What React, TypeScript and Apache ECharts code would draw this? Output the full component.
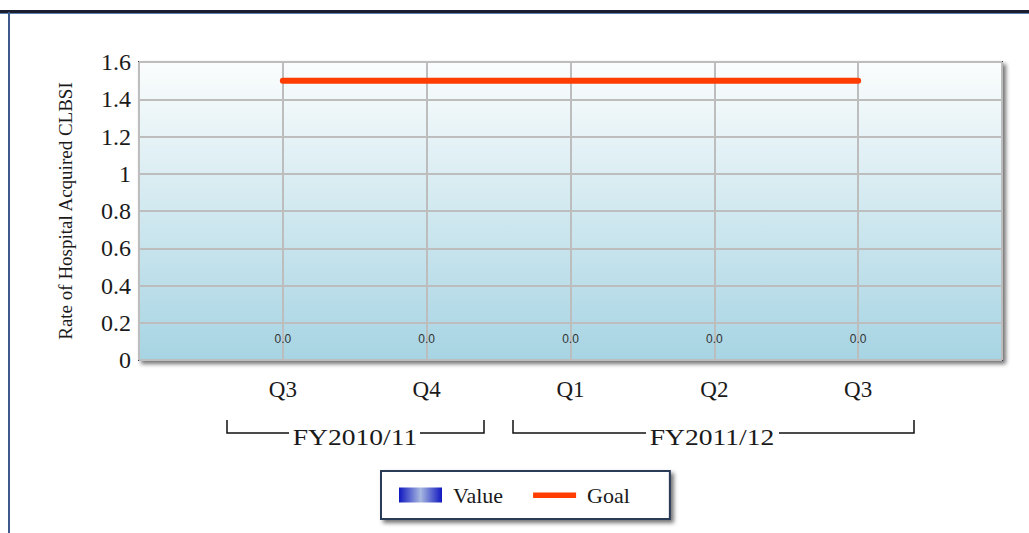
import React, { useEffect, useRef } from "react";
import * as echarts from "echarts";

const quarters = ["Q3", "Q4", "Q1", "Q2", "Q3"];
const valueData = [0, 0, 0, 0, 0];
const goalData = [1.5, 1.5, 1.5, 1.5, 1.5];
const fiscalYears = ["FY2010/11", "FY2011/12"];
const yTicks = { min: 0, max: 1.6, interval: 0.2 };

const SERIF = "'Liberation Serif', 'Times New Roman', serif";
const LINE_ICON = "path://M0,0h0.01v0.01h-0.01z M0,5h43v5.5h-43z M42.99,14.99h0.01v0.01h-0.01z";

export default function App() {
  const ref = useRef<HTMLDivElement>(null);
  useEffect(() => {
    if (!ref.current) return;
    const chart = echarts.init(ref.current, undefined, { renderer: "svg" });
    const option: any = {
      animation: false,
      backgroundColor: "#ffffff",
      grid: {
        left: 139,
        top: 62,
        width: 863,
        height: 298,
        show: true,
        borderColor: "#2a3a58",
        borderWidth: 2,
        backgroundColor: new echarts.graphic.LinearGradient(0, 0, 0, 1, [
          { offset: 0, color: "#fbfdfd" },
          { offset: 1, color: "#a7d4e3" },
        ]),
        shadowColor: "rgba(0,0,0,0.55)",
        shadowBlur: 4,
        shadowOffsetX: 3,
        shadowOffsetY: 3,
      },
      xAxis: {
        type: "value",
        min: -1,
        max: 5,
        interval: 1,
        axisLine: { show: false },
        axisTick: { show: false },
        splitLine: { show: true, lineStyle: { color: "#bdbdbd", width: 2 } },
        axisLabel: {
          margin: 18,
          fontFamily: SERIF,
          fontSize: 23,
          color: "#1a1a1a",
          formatter: (v: number) => (v >= 0 && v < quarters.length ? quarters[v] : ""),
        },
      },
      yAxis: {
        type: "value",
        min: yTicks.min,
        max: yTicks.max,
        interval: yTicks.interval,
        name: "Rate of Hospital Acquired CLBSI",
        nameLocation: "middle",
        nameRotate: 90,
        nameGap: 64,
        nameTextStyle: { fontFamily: SERIF, fontSize: 19, color: "#1a1a1a" },
        axisLine: { show: false },
        axisTick: { show: false },
        splitLine: { show: true, lineStyle: { color: "#bdbdbd", width: 2 } },
        axisLabel: {
          margin: 8,
          fontFamily: SERIF,
          fontSize: 24,
          color: "#1a1a1a",
        },
      },
      legend: {
        left: 381,
        top: 471,
        orient: "horizontal",
        backgroundColor: "#ffffff",
        borderColor: "#2a3a58",
        borderWidth: 2,
        padding: [13, 40, 13, 18],
        itemGap: 30,
        itemWidth: 43,
        itemHeight: 15,
        shadowColor: "rgba(0,0,0,0.55)",
        shadowBlur: 4,
        shadowOffsetX: 3,
        shadowOffsetY: 3,
        textStyle: { fontFamily: SERIF, fontSize: 22, color: "#1a1a1a", padding: [0, 0, 0, 6] },
        data: [
          { name: "Value", icon: "rect" },
          { name: "Goal", icon: LINE_ICON, itemStyle: { color: "#ff3d00" } },
        ],
      },
      series: [
        {
          name: "Value",
          type: "bar",
          barWidth: 40,
          data: valueData.map((v, i) => [i, v]),
          itemStyle: {
            color: new echarts.graphic.LinearGradient(0, 0, 1, 0, [
              { offset: 0, color: "#1018c0" },
              { offset: 0.5, color: "#a8b8e0" },
              { offset: 1, color: "#1018c0" },
            ]),
          },
          label: {
            show: true,
            position: "top",
            distance: 15,
            fontFamily: "'Liberation Sans', Arial, sans-serif",
            fontSize: 12,
            color: "#333333",
            formatter: (p: any) => Number(p.value[1]).toFixed(1),
          },
        },
        {
          name: "Goal",
          type: "line",
          data: goalData.map((v, i) => [i, v]),
          symbol: "none",
          lineStyle: { color: "#ff3d00", width: 6, cap: "round" },
          itemStyle: { color: "#ff3d00" },
        },
      ],
      graphic: [
        { type: "rect", shape: { x: 0, y: 10, width: 1029, height: 3 }, style: { fill: "#1b1e2e" } },
        { type: "rect", shape: { x: 0, y: 13, width: 1029, height: 1 }, style: { fill: "#5a7fb0" } },
        { type: "rect", shape: { x: 8, y: 12, width: 2, height: 521 }, style: { fill: "#3d5a8a" } },
        // bracket FY2010/11
        { type: "polyline", shape: { points: [[227, 420], [227, 433], [289, 433]] }, style: { stroke: "#111", lineWidth: 1.5, fill: "none" } },
        { type: "polyline", shape: { points: [[420, 433], [484, 433], [484, 420]] }, style: { stroke: "#111", lineWidth: 1.5, fill: "none" } },
        { type: "text", x: 355, y: 437, scaleX: 1.15, style: { text: fiscalYears[0], font: `24px ${SERIF}`, fill: "#1a1a1a", align: "center", verticalAlign: "middle" } },
        // bracket FY2011/12
        { type: "polyline", shape: { points: [[513, 420], [513, 433], [646, 433]] }, style: { stroke: "#111", lineWidth: 1.5, fill: "none" } },
        { type: "polyline", shape: { points: [[779, 433], [914, 433], [914, 420]] }, style: { stroke: "#111", lineWidth: 1.5, fill: "none" } },
        { type: "text", x: 712, y: 437, scaleX: 1.15, style: { text: fiscalYears[1], font: `24px ${SERIF}`, fill: "#1a1a1a", align: "center", verticalAlign: "middle" } },
      ],
    };
    chart.setOption(option);
    return () => chart.dispose();
  }, []);
  return <div ref={ref} style={{ position: "fixed", left: 0, top: 0, width: 1029, height: 533 }} />;
}
